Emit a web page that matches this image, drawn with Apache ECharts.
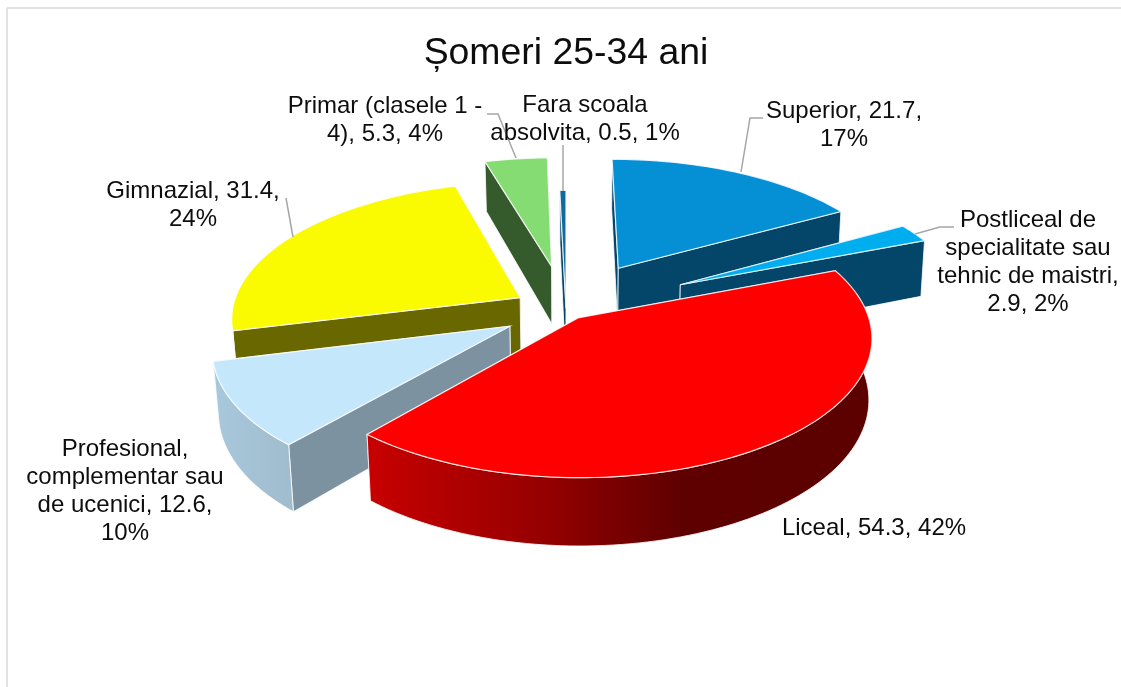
<!DOCTYPE html>
<html>
<head>
<meta charset="utf-8">
<style>html,body{margin:0;padding:0;background:#fff}#c{width:1121px;height:687px}</style>
<script src="https://cdn.jsdelivr.net/npm/echarts@6/dist/echarts.min.js"></script>
</head>
<body>
<div id="c"></div>
<script>
// Data
const categories = ['Superior','Postliceal de specialitate sau tehnic de maistri','Liceal','Profesional, complementar sau de ucenici','Gimnazial','Primar (clasele 1 - 4)','Fara scoala absolvita'];
const values = [21.7, 2.9, 54.3, 12.6, 31.4, 5.3, 0.5];
const percents = [17, 2, 42, 10, 24, 4, 1];
const titleText = 'Șomeri 25-34 ani';

// Wrapped label lines as in the picture
const labelLines = [
  ['Superior, 21.7,','17%'],
  ['Postliceal de','specialitate sau','tehnic de maistri,','2.9, 2%'],
  ['Liceal, 54.3, 42%'],
  ['Profesional,','complementar sau','de ucenici, 12.6,','10%'],
  ['Gimnazial, 31.4,','24%'],
  ['Primar (clasele 1 -','4), 5.3, 4%'],
  ['Fara scoala','absolvita, 0.5, 1%']
];

// Layout and style
const labelAnchor = [[844,111],[1028,220],[874,528],[125,449],[193,191],[385,106],[585,105]];
const leaders = [
  [[741,172],[750,118],[763,118]],
  [[915,234],[940,227],[954,227]],
  null, null,
  [[293,237],[286,198]],
  [[516,158],[498,114],[487,114]],
  [[563,191],[563,145]]
];
const explode = [105,126,20,63,52,96,3];
const topColor = ['#0590d6','#00aeef','#ff0000','#c5e7fb','#fafa00','#84dc72','#0f6a9e'];
const faceColor = ['#03466a','#03466a','#7a0000','#7c92a0','#696700','#355a2b','#03466a'];
const arcStops = {
  2:[[0,'#c80000'],[0.35,'#960000'],[0.62,'#5f0000'],[1,'#5c0000']],
  3:[[0,'#a8c8dc'],[1,'#a0bccd']]
};
const drawOrder = [6,5,0,4,1,3,2];
const R = 280, CX = 566, CY = 310, K = 0.468, S0 = 1.03, PERSP = 0.0005;

const total = values.reduce((a,b)=>a+b,0);
const RAD = Math.PI/180;
let acc = 0;
const ranges = values.map(v=>{const a=acc; acc+=v/total*360; return [a,acc];});

function project(X,Y,Z){
  const s = S0/(1-PERSP*Y);
  const d = 60+0.028*Y;
  const shrink = X>0 ? 0.010 : 0.017;
  return [CX+X*s*(1-shrink*Z), CY+K*Y*s+Z*d];
}
function wedge(i){
  const [a0,a1]=ranges[i], mid=(a0+a1)/2*RAD, E=explode[i];
  const ax=E*Math.sin(mid), ay=-E*Math.cos(mid);
  const rim=(deg,z)=>project(ax+R*Math.sin(deg*RAD), ay-R*Math.cos(deg*RAD), z);
  const apex=z=>project(ax,ay,z);
  return {a0,a1,rim,apex};
}
function arcPts(w,from,to,z){
  const n=Math.max(2,Math.ceil((to-from)/1.5)), p=[];
  for(let j=0;j<=n;j++) p.push(w.rim(from+(to-from)*j/n,z));
  return p;
}
function renderItem(params,api){
  const i=api.value(0), w=wedge(i), kids=[];
  const line='rgba(255,255,255,0.8)';
  const faces=[
    {deg:w.a0,vis:-Math.sin(w.a0*RAD)},
    {deg:w.a1,vis:Math.sin(w.a1*RAD)}
  ];
  faces.sort((p,q)=>p.vis-q.vis).forEach(f=>{
    kids.push({type:'polygon',silent:true,
      shape:{points:[w.apex(0),w.rim(f.deg,0),w.rim(f.deg,1),w.apex(1)]},
      style:{fill:faceColor[i],stroke:line,lineWidth:1}});
  });
  const from=Math.max(w.a0,80), to=Math.min(w.a1,258);
  if(to>from){
    const stops=arcStops[i]||[[0,faceColor[i]],[1,faceColor[i]]];
    kids.push({type:'polygon',silent:true,
      shape:{points:arcPts(w,from,to,0).concat(arcPts(w,from,to,1).reverse())},
      style:{fill:new echarts.graphic.LinearGradient(0,0,1,0,stops.map(s=>({offset:s[0],color:s[1]}))),
        stroke:line,lineWidth:1}});
  }
  kids.push({type:'polygon',silent:true,
    shape:{points:[w.apex(0)].concat(arcPts(w,w.a0,w.a1,0))},
    style:{fill:topColor[i],stroke:line,lineWidth:1.2}});
  return {type:'group',children:kids};
}
function labelGraphics(){
  const g=[];
  g.push({type:'line',shape:{x1:7,y1:8,x2:1121,y2:8},style:{stroke:'#d9d9d9',lineWidth:1.5},silent:true});
  g.push({type:'line',shape:{x1:7,y1:8,x2:7,y2:687},style:{stroke:'#d9d9d9',lineWidth:1.5},silent:true});
  leaders.forEach(l=>{ if(l) g.push({type:'polyline',shape:{points:l},z:5,silent:true,style:{fill:null,stroke:'#a6a6a6',lineWidth:1.5}}); });
  labelLines.forEach((ls,i)=>ls.forEach((t,j)=>{
    g.push({type:'text',z:6,silent:true,x:labelAnchor[i][0],y:labelAnchor[i][1]+j*28.2,
      style:{text:t,align:'center',verticalAlign:'middle',fill:'#0d0d0d',
        font:'24px "Liberation Sans", Arial, sans-serif'}});
  }));
  return g;
}
const chart=echarts.init(document.getElementById('c'),null,{renderer:'canvas'});
chart.setOption({
  animation:false,
  backgroundColor:'#fff',
  title:{text:titleText,left:561,top:30,textAlign:'center',
    textStyle:{fontFamily:'"Liberation Sans", Arial, sans-serif',fontSize:37.4,fontWeight:'normal',color:'#0d0d0d'}},
  graphic:labelGraphics(),
  series:[{type:'custom',coordinateSystem:'none',renderItem,silent:true,
    data:drawOrder.map(i=>({name:categories[i],value:[i,values[i],percents[i]]}))}]
});
</script>
</body>
</html>
